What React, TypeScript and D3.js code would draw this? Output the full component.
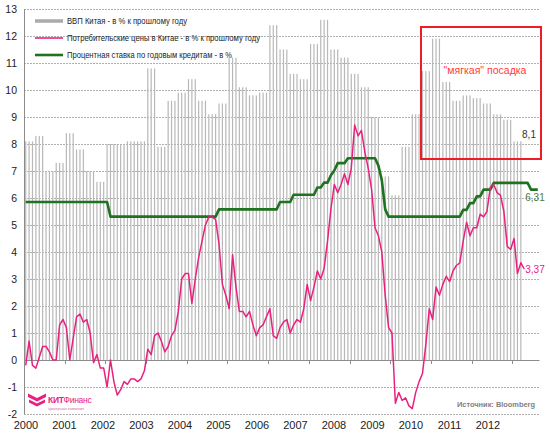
import React from "react";
import * as d3 from "d3";

// Quarterly GDP growth, % y/y (2000 Q1 .. 2012 Q1)
const gdpQuarterly: number[] = [
  8.1, 8.3, 7.0, 7.3,
  8.4, 7.8, 7.0, 6.6,
  8.0, 8.0, 8.1, 8.1,
  10.8, 7.9, 9.6, 9.9,
  10.4, 9.6, 9.1, 9.5,
  11.2, 10.1, 9.8, 9.9,
  12.4, 11.5, 10.6, 10.4,
  11.7, 12.6, 11.5, 11.2,
  10.6, 10.1, 9.0, 6.8,
  6.1, 7.9, 9.1, 10.7,
  11.9, 10.3, 9.6, 9.8,
  9.7, 9.5, 9.1, 8.9,
  8.1,
];

// Monthly CPI, % y/y (Jan 2000 .. Apr 2012)
const cpiMonthly: number[] = [
  -0.2, 0.7, -0.2, -0.3, 0.1, 0.5, 0.5, 0.3, 0.0, 0.0, 1.3, 1.5,
  1.2, 0.0, 0.8, 1.6, 1.7, 1.4, 1.5, 1.0, -0.1, 0.2, -0.3, -0.3,
  -1.0, 0.0, -0.8, -1.3, -1.1, -0.8, -0.9, -0.7, -0.7, -0.8, -0.7, -0.4,
  0.4, 0.2, 0.9, 1.0, 0.7, 0.3, 0.5, 0.9, 1.1, 1.8, 3.0, 3.2,
  3.2, 2.1, 3.0, 3.8, 4.4, 5.0, 5.3, 5.3, 5.2, 4.3, 2.8, 2.4,
  1.9, 3.9, 2.7, 1.8, 1.8, 1.6, 1.8, 1.3, 0.9, 1.2, 1.3, 1.6,
  1.9, 0.9, 0.8, 1.2, 1.4, 1.5, 1.0, 1.3, 1.5, 1.4, 1.9, 2.8,
  2.2, 2.7, 3.3, 3.0, 3.4, 4.4, 5.6, 6.5, 6.2, 6.5, 6.9, 6.5,
  7.1, 8.7, 8.3, 8.5, 7.7, 7.1, 6.3, 4.9, 4.6, 4.0, 2.4, 1.2,
  1.0, -1.6, -1.2, -1.5, -1.4, -1.7, -1.8, -1.2, -0.8, -0.5, 0.6, 1.9,
  1.5, 2.7, 2.4, 2.8, 3.1, 2.9, 3.3, 3.5, 3.6, 4.4, 5.1, 4.6,
  4.9, 4.9, 5.4, 5.3, 5.5, 6.4, 6.5, 6.2, 6.1, 5.5, 4.2, 4.1,
  4.5, 3.2, 3.6, 3.37,
];

// Monthly 1-year lending rate, % (Jan 2000 .. Aug 2012)
const rateMonthly: number[] = [
  5.85, 5.85, 5.85, 5.85, 5.85, 5.85, 5.85, 5.85, 5.85, 5.85, 5.85, 5.85,
  5.85, 5.85, 5.85, 5.85, 5.85, 5.85, 5.85, 5.85, 5.85, 5.85, 5.85, 5.85,
  5.85, 5.31, 5.31, 5.31, 5.31, 5.31, 5.31, 5.31, 5.31, 5.31, 5.31, 5.31,
  5.31, 5.31, 5.31, 5.31, 5.31, 5.31, 5.31, 5.31, 5.31, 5.31, 5.31, 5.31,
  5.31, 5.31, 5.31, 5.31, 5.31, 5.31, 5.31, 5.31, 5.31, 5.58, 5.58, 5.58,
  5.58, 5.58, 5.58, 5.58, 5.58, 5.58, 5.58, 5.58, 5.58, 5.58, 5.58, 5.58,
  5.58, 5.58, 5.58, 5.85, 5.85, 5.85, 5.85, 6.12, 6.12, 6.12, 6.12, 6.12,
  6.12, 6.12, 6.39, 6.39, 6.57, 6.57, 6.84, 7.02, 7.29, 7.29, 7.29, 7.47,
  7.47, 7.47, 7.47, 7.47, 7.47, 7.47, 7.47, 7.47, 7.20, 6.66, 5.58, 5.31,
  5.31, 5.31, 5.31, 5.31, 5.31, 5.31, 5.31, 5.31, 5.31, 5.31, 5.31, 5.31,
  5.31, 5.31, 5.31, 5.31, 5.31, 5.31, 5.31, 5.31, 5.31, 5.56, 5.56, 5.81,
  5.81, 6.06, 6.06, 6.31, 6.31, 6.31, 6.56, 6.56, 6.56, 6.56, 6.56, 6.56,
  6.56, 6.56, 6.56, 6.56, 6.56, 6.31, 6.31, 6.31,
];

const yTicks: number[] = [-2, -1, 0, 1, 2, 3, 4, 5, 6, 7, 8, 9, 10, 11, 12, 13];
const yearLabels: string[] = [
  "2000", "2001", "2002", "2003", "2004", "2005", "2006",
  "2007", "2008", "2009", "2010", "2011", "2012",
];
const legendLabels: string[] = [
  "ВВП Китая - в % к прошлому году",
  "Потребительские цены в Китае - в % к прошлому году",
  "Процентная ставка по годовым кредитам - в %",
];

const W = 550;
const H = 434;
const PINK = "#e8217f";
const GREEN = "#1f721f";
const BAR = "#b8b8b8";
const FONT = "Arial, 'Liberation Sans', sans-serif";

export default function App() {
  const nMonths = rateMonthly.length;
  const x = d3
    .scaleBand<number>()
    .domain(d3.range(nMonths))
    .range([24, 539.5])
    .paddingInner(0)
    .paddingOuter(0);
  const step = x.bandwidth();
  const cx = (i: number) => (x(i) as number) + step / 2;
  const y = d3.scaleLinear().domain([-2, 13]).range([414, 9]);
  const yearX = d3.scaleLinear().domain([0, 12]).range([26, 488]);

  const gdpMonthly = gdpQuarterly.flatMap((v) => [v, v, v]);

  const line = d3
    .line<number>()
    .x((_, i) => cx(i))
    .y((d) => y(d));

  const yearTicks = d3.range(13).map((k) => x(k * 12) as number);

  return (
    <svg
      width={W}
      height={H}
      style={{ position: "absolute", left: 0, top: 0, background: "#fff" }}
      fontFamily={FONT}
    >
      <rect x={0} y={0} width={W} height={H} fill="#fff" />
      {/* gridlines */}
      {yTicks.map((t) =>
        t === 0 ? null : (
          <line
            key={"g" + t}
            x1={24}
            x2={539.5}
            y1={Math.round(y(t)) + 0.5}
            y2={Math.round(y(t)) + 0.5}
            stroke="#b0b0b0"
            strokeWidth={1}
            strokeDasharray="2,1"
          />
        )
      )}
      {/* GDP bars */}
      {gdpMonthly.map((v, i) => (
        <rect
          key={"b" + i}
          x={cx(i) - 0.6}
          y={y(v)}
          width={1.2}
          height={y(0) - y(v)}
          fill={BAR}
        />
      ))}
      {/* zero axis */}
      <line x1={24} x2={539.5} y1={y(0) + 0.5} y2={y(0) + 0.5} stroke="#8c8c8c" strokeWidth={1} />
      {yearTicks.map((tx, k) => (
        <line
          key={"xt" + k}
          x1={Math.round(tx) + 0.5}
          x2={Math.round(tx) + 0.5}
          y1={y(0)}
          y2={y(0) + 4}
          stroke="#8c8c8c"
          strokeWidth={1}
        />
      ))}
      {/* y axis */}
      <line x1={24.5} x2={24.5} y1={y(13)} y2={y(-2)} stroke="#8c8c8c" strokeWidth={1} />
      {yTicks.map((t) => (
        <text
          key={"yl" + t}
          x={17}
          y={y(t) + 4}
          textAnchor="end"
          fontSize={10.5}
          fill="#222"
        >
          {t}
        </text>
      ))}
      {yearLabels.map((lab, i) => (
        <text key={"xl" + i} x={yearX(i)} y={429} textAnchor="middle" fontSize={11} fill="#222">
          {lab}
        </text>
      ))}
      {/* lines */}
      <path
        d={line(rateMonthly) || ""}
        fill="none"
        stroke={GREEN}
        strokeWidth={2.6}
        strokeLinejoin="round"
      />
      <path
        d={line(cpiMonthly) || ""}
        fill="none"
        stroke={PINK}
        strokeWidth={1.5}
        strokeLinejoin="round"
      />
      {/* end labels */}
      <text x={535} y={201} textAnchor="middle" fontSize={10} fill="#4e7a3a">
        6,31
      </text>
      <text x={535} y={273} textAnchor="middle" fontSize={10} fill={PINK}>
        3,37
      </text>
      <text x={529} y={138} textAnchor="middle" fontSize={10} fill="#333">
        8,1
      </text>
      {/* annotation box */}
      <rect x={421} y={27} width={120} height={132} fill="none" stroke="#ee1c25" strokeWidth={2} />
      <text x={485} y={74} textAnchor="middle" fontSize={10.5} fill="#ff3b3b">
        "мягкая" посадка
      </text>
      {/* legend */}
      <line x1={35} x2={63} y1={21} y2={21} stroke="#aaa" strokeWidth={3.5} />
      <line x1={35} x2={63} y1={38} y2={38} stroke={PINK} strokeWidth={1.6} />
      <line x1={35} x2={63} y1={55} y2={55} stroke={GREEN} strokeWidth={2.6} />
      {legendLabels.map((lab, i) => (
        <text
          key={"lg" + i}
          x={67}
          y={24 + i * 17}
          fontSize={9}
          fill="#222"
          textLength={[120, 193, 165][i]}
          lengthAdjust="spacingAndGlyphs"
        >
          {lab}
        </text>
      ))}
      {/* logo */}
      <g fill={PINK}>
        <path d="M28,393.5 L37,398 L46,393.5 L46,397 L37,401.5 L28,397 Z" />
        <path d="M29,399.5 L37,403.5 L45,399.5 L45,402.5 L37,406.5 L29,402.5 Z" />
      </g>
      <text x={48} y={403} fontSize={8.5} fill={PINK} letterSpacing={-0.3}>
        <tspan fontWeight="bold">КИТ</tspan>
        <tspan>Финанс</tspan>
      </text>
      <text x={48} y={410} fontSize={4.2} fill="#d86aa0" textLength={36} lengthAdjust="spacingAndGlyphs">
        брокерская компания
      </text>
      <text
        x={457}
        y={407}
        fontSize={8}
        fontWeight="bold"
        fill="#7f7f7f"
        textLength={78}
        lengthAdjust="spacingAndGlyphs"
      >
        Источник: Bloomberg
      </text>
    </svg>
  );
}
